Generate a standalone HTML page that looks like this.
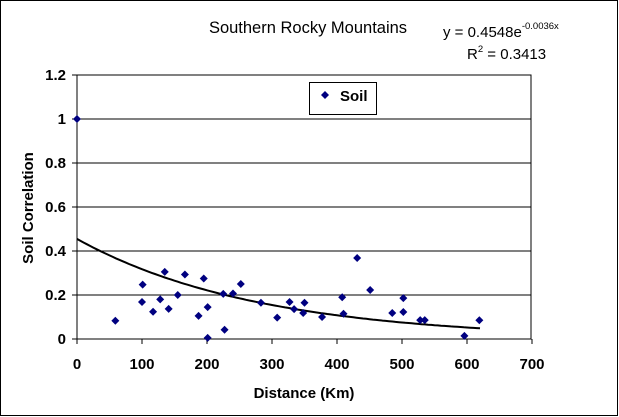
<!DOCTYPE html>
<html><head><meta charset="utf-8"><style>
html,body{margin:0;padding:0;background:#fff}
svg{display:block;font-family:"Liberation Sans",Arial,sans-serif}
</style></head><body>
<svg id="chart" width="619" height="417">
<rect x="0.5" y="0.5" width="617" height="415" fill="#fff" stroke="#000"/>
<text x="308" y="33" font-size="16.5" text-anchor="middle">Southern Rocky Mountains</text>
<text x="443" y="37" font-size="15">y = 0.4548e<tspan font-size="9.5" dy="-8">-0.0036x</tspan></text>
<text x="467" y="59" font-size="15">R<tspan font-size="9.5" dy="-7">2</tspan><tspan dy="7"> = 0.3413</tspan></text>
<g id="grid"></g>
<rect x="77" y="75" width="454" height="264" fill="none" stroke="#000"/>
<g id="axes"></g>
<path id="trend" fill="none" stroke="#000" stroke-width="2"/>
<g id="points"></g>
<g>
<rect x="309.5" y="82.5" width="67" height="32" fill="#fff" stroke="#000"/>
<path d="M325 91 L329 95 L325 99 L321 95 Z" fill="#000080"/>
<text x="340" y="101" font-size="15" font-weight="bold">Soil</text>
</g>
<text x="304" y="398" font-size="15" font-weight="bold" text-anchor="middle">Distance (Km)</text>
<text transform="translate(33,208) rotate(-90)" font-size="15" font-weight="bold" text-anchor="middle">Soil Correlation</text>
</svg>
<script>
const xTicks=[0,100,200,300,400,500,600,700];
const yTicks=[0,0.2,0.4,0.6,0.8,1,1.2];
const yTickLabels=["0","0.2","0.4","0.6","0.8","1","1.2"];
const distances=[0,59,100,101,117,128,135,141,155,166,187,195,201,201,225,227,240,252,283,308,327,334,348,350,377,408,410,431,451,485,502,502,528,535,596,619];
const soilValues=[1,0.083,0.168,0.247,0.124,0.18,0.305,0.137,0.2,0.293,0.105,0.275,0.145,0.005,0.205,0.042,0.207,0.25,0.165,0.097,0.168,0.136,0.118,0.165,0.1,0.19,0.115,0.368,0.223,0.118,0.186,0.123,0.086,0.086,0.014,0.085];
const trendA=0.4548, trendB=-0.0036, trendMax=620;
const NS="http://www.w3.org/2000/svg";
const X=v=>77+v*0.65, Y=v=>339-v*220;
const grid=document.getElementById('grid'),axes=document.getElementById('axes'),pts=document.getElementById('points');
function mk(tag,attrs,parent){const e=document.createElementNS(NS,tag);for(const k in attrs)e.setAttribute(k,attrs[k]);parent.appendChild(e);return e;}
yTicks.forEach((t,i)=>{
  const l=mk('line',{x1:77,x2:531,y1:Y(t),y2:Y(t),stroke:'#000'},grid);
  
  
  const tk=mk('line',{x1:72,x2:77,y1:Y(t),y2:Y(t),stroke:'#000'},axes);
  
  
  const tx=mk('text',{x:66,y:Y(t)+5,'font-size':15,'font-weight':'bold','text-anchor':'end'},axes);
  tx.textContent=yTickLabels[i];
  
  
});
xTicks.forEach(t=>{
  const tk=mk('line',{x1:X(t),x2:X(t),y1:339,y2:344,stroke:'#000'},axes);
  
  
  const tx=mk('text',{x:X(t),y:369,'font-size':15,'font-weight':'bold','text-anchor':'middle'},axes);
  tx.textContent=String(t);
  
  
});
let d='';
for(let v=0;v<=trendMax;v+=5){d+=(v?'L':'M')+X(v).toFixed(1)+' '+Y(trendA*Math.exp(trendB*v)).toFixed(1);}
document.getElementById('trend').setAttribute('d',d);
distances.forEach((dx,i)=>{
  const cx=X(dx),cy=Y(soilValues[i]);
  const p=mk('path',{d:`M${cx} ${cy-4}L${cx+4} ${cy}L${cx} ${cy+4}L${cx-4} ${cy}Z`,fill:'#000080'},pts);
  
  
});
</script>
</body></html>
